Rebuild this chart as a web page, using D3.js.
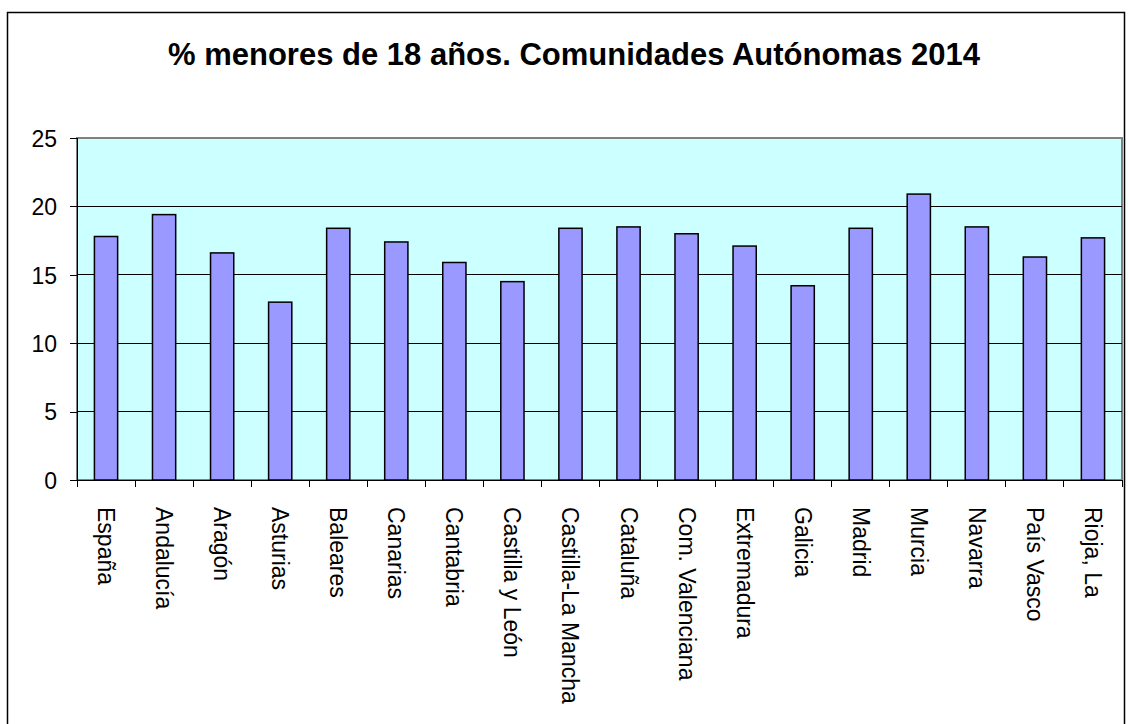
<!DOCTYPE html>
<meta charset="utf-8">
<style>
body { margin: 0; background: #fff; }
svg { font-family: Arial, "Liberation Sans", sans-serif; }
.axis path, .axis line { fill: none; stroke: #000; shape-rendering: crispEdges; }
.axis text { fill: #000; }
.grid line { stroke: #000; shape-rendering: crispEdges; }
.bar { fill: #9999ff; stroke: #000; stroke-width: 1.5; }
</style>
<div id="chart"></div>
<script src="https://d3js.org/d3.v7.min.js"></script>
<script>
var regiones = ["España", "Andalucía", "Aragón", "Asturias", "Baleares", "Canarias",
  "Cantabria", "Castilla y León", "Castilla-La Mancha", "Cataluña", "Com. Valenciana",
  "Extremadura", "Galicia", "Madrid", "Murcia", "Navarra", "País Vasco", "Rioja, La"];
var porcentajes = [17.8, 19.4, 16.6, 13.0, 18.4, 17.4, 15.9, 14.5, 18.4, 18.5, 18.0,
  17.1, 14.2, 18.4, 20.9, 18.5, 16.3, 17.7];
var yTicks = [0, 5, 10, 15, 20, 25];
var titulo = "% menores de 18 años. Comunidades Autónomas 2014";

var width = 1129, height = 724;
var mLeft = 77, mRight = 1122, mTop = 138, mBottom = 480;

var svg = d3.select("#chart").append("svg")
  .attr("width", width)
  .attr("height", height);

// marco exterior
svg.append("rect")
  .attr("x", 7.5).attr("y", 12.5)
  .attr("width", 1117).attr("height", 720)
  .attr("fill", "#fff").attr("stroke", "#000").attr("stroke-width", 1.5);

svg.append("text")
  .attr("x", 574).attr("y", 65)
  .attr("text-anchor", "middle")
  .style("font-weight", "bold")
  .style("font-size", "31px")
  .text(titulo);

var x = d3.scaleBand().domain(regiones).range([mLeft, mRight]).paddingInner(0.6).paddingOuter(0.3);
var xb = d3.scaleBand().domain(regiones).range([mLeft, mRight]);
var y = d3.scaleLinear().domain([0, 25]).range([mBottom, mTop]);

// area del grafico
svg.append("rect")
  .attr("x", mLeft).attr("y", mTop)
  .attr("width", mRight - mLeft).attr("height", mBottom - mTop)
  .attr("fill", "#ccffff").attr("stroke", "#808080").attr("stroke-width", 1.5)
  .style("shape-rendering", "crispEdges");

svg.append("g").attr("class", "grid")
  .selectAll("line")
  .data(yTicks.filter(function(d) { return d > 0 && d < 25; }))
  .enter().append("line")
  .attr("x1", mLeft).attr("x2", mRight)
  .attr("y1", function(d) { return y(d); })
  .attr("y2", function(d) { return y(d); });

svg.append("g").selectAll("rect")
  .data(porcentajes)
  .enter().append("rect")
  .attr("class", "bar")
  .attr("x", function(d, i) { return x(regiones[i]); })
  .attr("width", x.bandwidth())
  .attr("y", function(d) { return y(d); })
  .attr("height", function(d) { return y(0) - y(d); });

// eje y
var yAxis = svg.append("g").attr("class", "axis")
  .attr("transform", "translate(" + mLeft + ",0)")
  .call(d3.axisLeft(y).tickValues(yTicks).tickSize(7).tickPadding(13));
yAxis.select(".domain").remove();
yAxis.append("line").attr("y1", mTop).attr("y2", mBottom);
yAxis.selectAll("text").style("font-size", "23px").attr("dy", "0.36em");

// eje x: marcas en los limites de cada categoria
var xAxis = svg.append("g").attr("class", "axis");
xAxis.append("line")
  .attr("x1", mLeft).attr("x2", mRight)
  .attr("y1", mBottom).attr("y2", mBottom);
xAxis.selectAll(".tk")
  .data(regiones.concat([null]))
  .enter().append("line")
  .attr("class", "tk")
  .attr("x1", function(d, i) { return mLeft + i * xb.bandwidth(); })
  .attr("x2", function(d, i) { return mLeft + i * xb.bandwidth(); })
  .attr("y1", mBottom).attr("y2", mBottom + 7);
xAxis.selectAll("text")
  .data(regiones)
  .enter().append("text")
  .attr("transform", function(d) {
    return "translate(" + (xb(d) + xb.bandwidth() / 2 - 8) + "," + (mBottom + 27) + ") rotate(90)";
  })
  .attr("text-anchor", "start")
  .style("font-size", "23px")
  .text(function(d) { return d; });
</script>
